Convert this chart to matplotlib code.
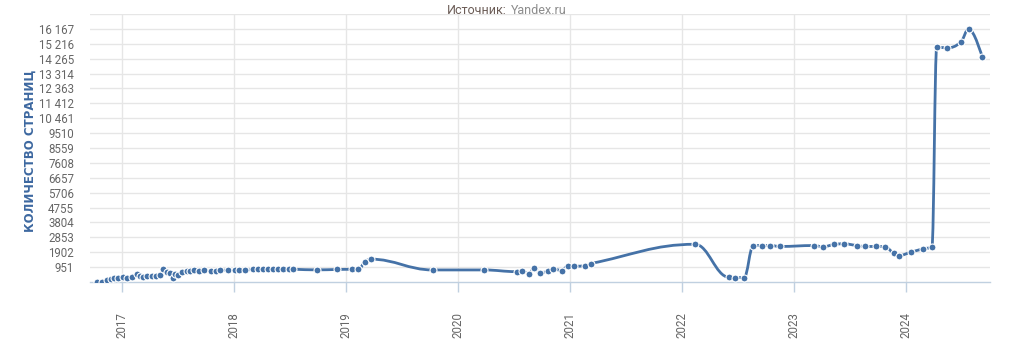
import numpy as np
import matplotlib
matplotlib.use("Agg")
import matplotlib.pyplot as plt
from matplotlib.path import Path
from matplotlib.patches import PathPatch

# ---- data (decimal year, number of pages) ----
years = [2016.774, 2016.819, 2016.866, 2016.902, 2016.929, 2016.964, 2017.009, 2017.045,
         2017.089, 2017.134, 2017.161, 2017.188, 2017.223, 2017.268, 2017.304, 2017.339,
         2017.369, 2017.402, 2017.429, 2017.453, 2017.473, 2017.500, 2017.536, 2017.578,
         2017.607, 2017.646, 2017.690, 2017.732, 2017.792, 2017.839, 2017.875, 2017.944,
         2018.009, 2018.047, 2018.098, 2018.172, 2018.217, 2018.261, 2018.301, 2018.346,
         2018.396, 2018.440, 2018.494, 2018.529, 2018.738, 2018.922, 2019.051, 2019.110,
         2019.170, 2019.221, 2019.774, 2020.232, 2020.524, 2020.569, 2020.634, 2020.679,
         2020.732, 2020.804, 2020.848, 2020.926, 2020.979, 2021.036, 2021.131, 2021.185,
         2022.116, 2022.420, 2022.473, 2022.554, 2022.637, 2022.712, 2022.786, 2022.875,
         2023.179, 2023.256, 2023.360, 2023.444, 2023.560, 2023.634, 2023.729, 2023.810,
         2023.890, 2023.935, 2024.042, 2024.152, 2024.232, 2024.274, 2024.364, 2024.489,
         2024.560, 2024.679]
pages = [20, 20, 130, 190, 240, 280, 290, 280,
         330, 500, 390, 300, 370, 370, 390, 420,
         815, 620, 560, 280, 510, 420, 620, 710,
         720, 760, 730, 740, 720, 730, 740, 760,
         760, 770, 760, 800, 800, 800, 810, 810,
         815, 820, 820, 815, 775, 800, 810, 810,
         1300, 1460, 770, 770, 660, 725, 530, 880,
         600, 690, 860, 725, 1030, 1010, 1030, 1180,
         2410, 300, 280, 280, 2330, 2330, 2330, 2270,
         2330, 2250, 2400, 2440, 2330, 2270, 2270, 2250,
         1840, 1690, 1900, 2120, 2250, 15000, 14960, 15320,
         16160, 14400]

ytick_values = [951 * k for k in range(1, 18)]
ytick_labels = ["951", "1902", "2853", "3804", "4755", "5706", "6657", "7608", "8559",
                "9510", "10 461", "11 412", "12 363", "13 314", "14 265", "15 216", "16 167"]
xtick_values = [2017, 2018, 2019, 2020, 2021, 2022, 2023, 2024]
xtick_labels = [str(y) for y in xtick_values]

title_source = "Источник:"
title_site = "Yandex.ru"
y_title = "КОЛИЧЕСТВО СТРАНИЦ"

LINE = "#4572A7"
GRID = "#e6e6e6"
AXIS = "#c0d0e0"
LABEL = "#666666"

plt.rcParams['font.family'] = ['Roboto', 'DejaVu Sans']

W, H = 1020, 356
fig = plt.figure(figsize=(W / 100, H / 100), dpi=100)
ax = fig.add_axes([90 / W, 1 - 282 / H, 900 / W, 268 / H])


def spline_path(xs, ys, smoothing=1.5):
    """Highcharts-like spline through points, returned as a Bezier Path."""
    xs = np.asarray(xs, float)
    ys = np.asarray(ys, float)
    n = len(xs)
    lc = [None] * n
    rc = [None] * n
    denom = smoothing + 1
    for i in range(n):
        if i == 0 or i == n - 1:
            lc[i] = (xs[i], ys[i])
            rc[i] = (xs[i], ys[i])
            continue
        lx, ly = xs[i - 1], ys[i - 1]
        nx, ny = xs[i + 1], ys[i + 1]
        px, py = xs[i], ys[i]
        lcx = (smoothing * px + lx) / denom
        lcy = (smoothing * py + ly) / denom
        rcx = (smoothing * px + nx) / denom
        rcy = (smoothing * py + ny) / denom
        if rcx != lcx:
            corr = ((rcy - lcy) * (rcx - px)) / (rcx - lcx) + py - rcy
            lcy += corr
            rcy += corr
        if lcy > ly and lcy > py:
            lcy = max(ly, py)
            rcy = 2 * py - lcy
        elif lcy < ly and lcy < py:
            lcy = min(ly, py)
            rcy = 2 * py - lcy
        if rcy > ny and rcy > py:
            rcy = max(ny, py)
            lcy = 2 * py - rcy
        elif rcy < ny and rcy < py:
            rcy = min(ny, py)
            lcy = 2 * py - rcy
        lc[i] = (lcx, lcy)
        rc[i] = (rcx, rcy)
    verts = [(xs[0], ys[0])]
    codes = [Path.MOVETO]
    for i in range(1, n):
        verts += [rc[i - 1], lc[i], (xs[i], ys[i])]
        codes += [Path.CURVE4] * 3
    return Path(verts, codes)


ax.set_xlim(2016.714, 2024.75)
ax.set_ylim(0, 951 * 18)

# grid
for v in ytick_values + [951 * 18]:
    ax.axhline(v, color=GRID, lw=1, zorder=0)
for v in xtick_values:
    ax.axvline(v, color=GRID, lw=1, zorder=0)

patch = PathPatch(spline_path(years, pages), facecolor="none", edgecolor=LINE,
                  lw=2, zorder=3, capstyle="round", joinstyle="round")
ax.add_patch(patch)
ax.plot(years, pages, linestyle="none", marker="o", markersize=5.0,
        markerfacecolor=LINE, markeredgecolor="white", markeredgewidth=0.8, zorder=4)

for s in ["top", "right", "left"]:
    ax.spines[s].set_visible(False)
ax.spines["bottom"].set_color(AXIS)
ax.spines["bottom"].set_linewidth(1)

ax.set_yticks(ytick_values)
ax.set_yticklabels(ytick_labels)
ax.tick_params(axis="y", length=0, pad=11.5, labelsize=8.3, labelcolor=LABEL)
ax.set_xticks(xtick_values)
ax.set_xticklabels(xtick_labels, rotation=90, va="top", ha="center")
ax.tick_params(axis="x", length=7.5, width=1, color=AXIS, pad=14,
               labelsize=8.3, labelcolor=LABEL)

fig.text(30 / W, 1 - 151 / H, y_title, rotation=90, ha="center", va="center",
         fontsize=8.5, fontweight="bold", color="#3d68a0",
         family=["DejaVu Sans"])

fig.text(507 / W, 1 - 10 / H, title_source, ha="right", va="center",
         fontsize=9, color="#6b5c56")
fig.text(511 / W, 1 - 10 / H, title_site, ha="left", va="center",
         fontsize=9, color="#8c8c8c")

fig.savefig("out.png", dpi=100)
